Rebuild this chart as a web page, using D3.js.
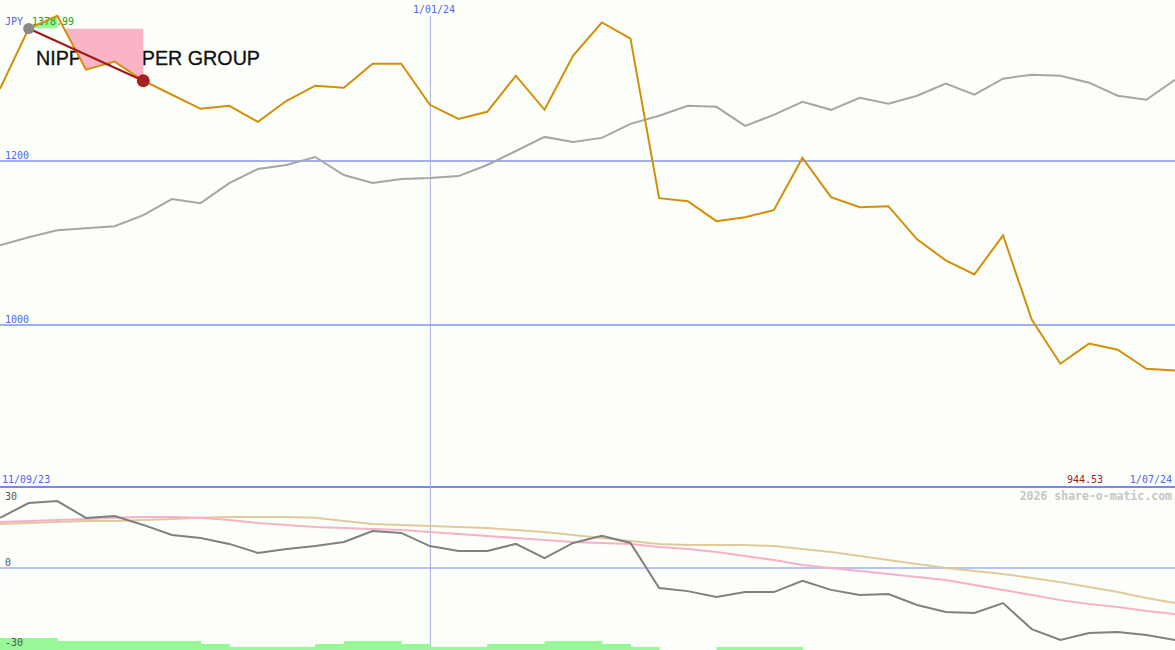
<!DOCTYPE html>
<html><head><meta charset="utf-8">
<script src="https://cdn.jsdelivr.net/npm/d3@7/dist/d3.min.js"></script>
<style>html,body{margin:0;padding:0;background:#fbfef9;}svg{display:block;}</style>
</head><body>
<svg id="chart" width="1175" height="650"></svg>
<script>
// Weekly closes, NIPPON PAPER GROUP (JPY)
const price = [1288.1,1361.6,1377.0,1311.4,1321.2,1297.9,1280.8,1263.6,1267.3,1247.7,1273.4,1291.8,1289.4,1318.7,1318.7,1268.5,1251.4,1260.0,1304.0,1262.4,1328.5,1368.9,1349.3,1154.7,1151.0,1126.6,1131.5,1140.0,1203.7,1155.9,1143.7,1144.9,1104.5,1078.8,1061.7,1109.4,1006.6,952.8,977.3,969.9,946.6,944.53];
// comparison index (rebased onto price scale)
const index = [1097.2,1107.0,1115.5,1118.0,1120.4,1133.9,1153.5,1148.6,1173.1,1190.2,1195.1,1204.9,1182.9,1173.1,1178.0,1179.2,1181.6,1195.1,1212.2,1229.4,1223.3,1228.2,1245.3,1255.1,1267.3,1266.1,1242.8,1256.3,1272.2,1262.4,1277.1,1269.8,1279.6,1294.3,1280.8,1300.4,1305.3,1304.0,1295.5,1279.6,1274.7,1299.1];
// lower panel oscillators
const momentum = [20.6,26.7,27.5,20.6,21.4,17.7,13.6,12.3,9.9,6.2,7.8,9.0,10.7,15.2,14.4,9.0,7.0,7.0,9.9,4.1,10.3,13.2,10.3,-8.2,-9.5,-11.9,-9.9,-9.9,-5.3,-9.0,-11.1,-10.7,-15.2,-18.1,-18.5,-14.4,-25.1,-29.6,-26.7,-26.3,-27.5,-29.6];
const avgFast = [18.9,19.3,19.7,20.1,20.6,21.0,21.0,20.6,19.7,18.5,17.7,16.9,16.4,16.0,15.6,14.8,14.0,13.2,12.3,11.5,10.7,10.3,9.9,8.6,7.8,6.6,4.9,3.3,1.2,0,-1.2,-2.5,-3.7,-4.9,-7.0,-9.0,-11.1,-13.2,-14.8,-16.0,-17.7,-18.9];
const avgSlow = [18.1,18.5,18.9,19.3,19.3,19.7,20.1,20.6,21.0,21.0,21.0,20.6,19.3,18.1,17.7,17.3,16.9,16.4,15.6,14.8,13.6,12.3,11.1,9.9,9.5,9.5,9.5,9.0,7.8,6.6,4.9,3.3,1.6,0,-1.2,-2.5,-4.1,-5.8,-7.8,-9.9,-12.3,-14.4];
// signal strength per week interval (0-4)
const signal = [4,4,3,3,3,3,3,2,1,1,1,2,3,3,2,1,1,2,2,3,3,2,1,0,0,1,1,1,0,0,0,0,0,0,0,0,0,0,0,0,0];
const priceTicks = [1200, 1000];
const lowerTicks = [30, 0, -30];
const dateLabels = ["11/09/23", "1/01/24", "1/07/24"];
const markerIndex = 15;
const trendStart = 1, trendEnd = 5;
const title = "NIPPON PAPER GROUP";
const currency = "JPY";
const maxLabel = "1378.99";
const lastLabel = "944.53";
const watermark = "2026 share-o-matic.com";

const W = 1175, H = 650;
const svg = d3.select("#chart");
const n = price.length;
const x = d3.scaleLinear().domain([0, n - 1]).range([0, W]);
const y = d3.scaleLinear().domain([1000, 1200]).range([325, 161]);
const yl = d3.scaleLinear().domain([-30, 30]).range([641, 495]);
const ys = d3.scaleLinear().domain([0, 4]).range([650, 638]);
const mono = "'DejaVu Sans Mono', monospace";

svg.append("rect").attr("width", W).attr("height", H).attr("fill", "#fbfef9");

// price gridlines
priceTicks.forEach(t => {
  svg.append("line").attr("x1", 0).attr("x2", W).attr("y1", y(t)).attr("y2", y(t))
    .attr("stroke", "#a3aef0").attr("stroke-width", 2);
  svg.append("text").attr("x", 5).attr("y", y(t) - 2.5).text(t)
    .attr("font-family", mono).attr("font-size", 10).attr("fill", "#5064ee");
});
// lower gridline at 0
svg.append("line").attr("x1", 0).attr("x2", W).attr("y1", yl(0)).attr("y2", yl(0))
  .attr("stroke", "#a3aef0").attr("stroke-width", 1.5);

// separator
svg.append("line").attr("x1", 0).attr("x2", W).attr("y1", 487).attr("y2", 487)
  .attr("stroke", "#7a88ee").attr("stroke-width", 2);

// vertical marker
svg.append("line").attr("x1", x(markerIndex) + 0.5).attr("x2", x(markerIndex) + 0.5)
  .attr("y1", 16).attr("y2", H).attr("stroke", "#a9b0e0").attr("stroke-width", 1);

// signal bars
svg.append("g").selectAll("rect").data(signal).join("rect")
  .attr("x", (d, i) => x(i)).attr("width", (d, i) => x(i + 1) - x(i) + 0.5)
  .attr("y", d => ys(d)).attr("height", d => H - ys(d))
  .attr("fill", "#98f898");

// lower labels (over bars)
const lowerLabelY = [500, yl(0) - 2, 646];
lowerTicks.forEach((t, i) => {
  svg.append("text").attr("x", 5).attr("y", lowerLabelY[i]).text(t)
    .attr("font-family", mono).attr("font-size", 10).attr("fill", "#555");
});

// labels
svg.append("text").attr("x", 413).attr("y", 12.5).text(dateLabels[1])
  .attr("font-family", mono).attr("font-size", 10).attr("fill", "#5064ee");
svg.append("text").attr("x", 2).attr("y", 483).text(dateLabels[0])
  .attr("font-family", mono).attr("font-size", 10).attr("fill", "#5064ee");
svg.append("text").attr("x", 1172).attr("y", 483).attr("text-anchor", "end").text(dateLabels[2])
  .attr("font-family", mono).attr("font-size", 10).attr("fill", "#5064ee");
svg.append("text").attr("x", 1067).attr("y", 483).text(lastLabel)
  .attr("font-family", mono).attr("font-size", 10).attr("fill", "#a01c1c");
svg.append("text").attr("x", 1172).attr("y", 500).attr("text-anchor", "end").text(watermark)
  .attr("font-family", mono).attr("font-size", 11.5).attr("font-weight", "bold").attr("fill", "#c6c6c6");

// title
svg.append("text").attr("x", 36).attr("y", 65).text(title)
  .attr("font-family", "'Liberation Sans', Arial, sans-serif").attr("font-size", 19.5)
  .attr("textLength", 224).attr("lengthAdjust", "spacingAndGlyphs").attr("fill", "#111")
  .attr("stroke", "#111").attr("stroke-width", 0.3);

// trend shading
const baseY = y(price[trendStart]);
const seg = (a, b) => d3.range(a, b + 1).map(i => [x(i), y(price[i])]);
const areaGen = d3.area().x(d => d[0]).y0(baseY).y1(d => d[1]);
const defs = svg.append("defs");
defs.append("clipPath").attr("id", "below").append("rect")
  .attr("x", 0).attr("y", baseY).attr("width", W).attr("height", H);
defs.append("clipPath").attr("id", "above").append("rect")
  .attr("x", 0).attr("y", 0).attr("width", W).attr("height", baseY);
svg.append("path").attr("d", areaGen(seg(trendStart, trendStart + 1)))
  .attr("fill", "#98f898").attr("clip-path", "url(#above)");
svg.append("path").attr("d", areaGen(seg(trendStart + 1, trendEnd)))
  .attr("fill", "#fab4c8").attr("clip-path", "url(#below)");

// JPY + max labels (over shading)
svg.append("text").attr("x", 5).attr("y", 24.5).text(currency)
  .attr("font-family", mono).attr("font-size", 10).attr("fill", "#5064ee");
svg.append("text").attr("x", 32).attr("y", 24.5).text(maxLabel)
  .attr("font-family", mono).attr("font-size", 10).attr("fill", "#20a020");

// lines
const line = (arr, sc) => d3.line().x((d, i) => x(i)).y(d => sc(d))(arr);
svg.append("path").attr("d", line(index, y)).attr("fill", "none").attr("stroke", "#a6a6a6").attr("stroke-width", 2);
svg.append("path").attr("d", line(price, y)).attr("fill", "none").attr("stroke", "#d48e08").attr("stroke-width", 2);
svg.append("path").attr("d", line(avgSlow, yl)).attr("fill", "none").attr("stroke", "#e2c99c").attr("stroke-width", 2);
svg.append("path").attr("d", line(avgFast, yl)).attr("fill", "none").attr("stroke", "#f8b0c8").attr("stroke-width", 2);
svg.append("path").attr("d", line(momentum, yl)).attr("fill", "none").attr("stroke", "#808080").attr("stroke-width", 2);

// trend line and dots
svg.append("line").attr("x1", x(trendStart)).attr("y1", y(price[trendStart]))
  .attr("x2", x(trendEnd)).attr("y2", y(price[trendEnd]))
  .attr("stroke", "#a01818").attr("stroke-width", 2);
svg.append("circle").attr("cx", x(trendStart)).attr("cy", y(price[trendStart])).attr("r", 5.5).attr("fill", "#888");
svg.append("circle").attr("cx", x(trendEnd)).attr("cy", y(price[trendEnd])).attr("r", 6.5).attr("fill", "#a52222");
</script>
</body></html>
